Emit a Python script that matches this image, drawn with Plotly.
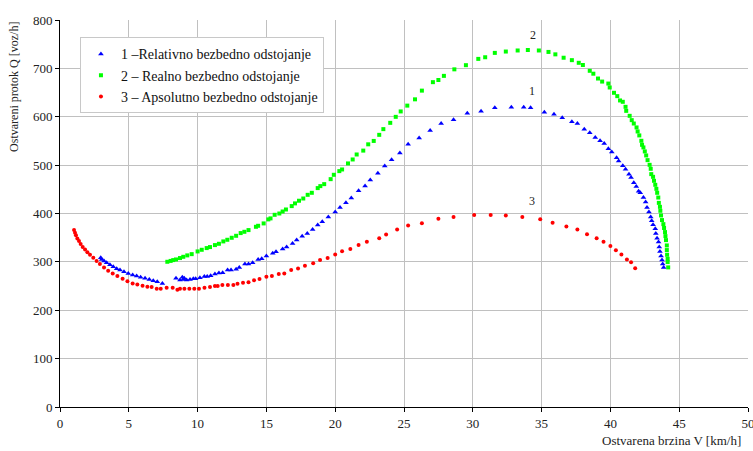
import plotly.graph_objects as go

# Series 1 – Relativno bezbedno odstojanje (blue triangles)
v1 = [2.96, 3.03, 3.2, 3.39, 3.63, 3.87, 4.12, 4.36, 4.65, 4.96,
      5.28, 5.57, 5.86, 6.18, 6.49, 6.78, 7.07, 7.44,
      8.43, 8.72, 8.89, 8.96, 9.03, 9.2, 9.45, 9.69, 9.86, 10.17,
      10.49, 10.7, 10.95, 11.26, 11.55, 11.82, 12.18, 12.43, 12.8, 13.03,
      13.44, 13.7, 14.0, 14.4, 14.66, 15.0, 15.46, 15.7, 16.18, 16.47,
      16.9, 17.2, 17.6, 17.97, 18.36, 18.73, 19.06, 19.5, 20.0, 20.35,
      20.78, 21.17, 21.7, 22.17, 22.55, 23.1, 23.6, 24.1, 24.7, 25.3,
      26.1, 26.9, 27.7, 28.6, 29.6, 30.6, 31.6, 32.8, 33.7, 34.2,
      35.2, 35.9, 36.5, 37.2, 37.6, 38.1, 38.5, 38.9, 39.25, 39.55,
      39.85, 40.1, 40.45, 40.6, 40.9, 41.1, 41.35, 41.5, 41.7, 41.88,
      42.05, 42.17, 42.4, 42.56, 42.66, 42.8, 42.93, 43.0, 43.1, 43.26,
      43.3, 43.39, 43.5, 43.55, 43.6, 43.68, 43.75, 43.8, 43.87]
q1 = [308.5, 305, 301.6, 298, 294, 290, 285.8, 283, 279.5, 276,
      272.7, 270.7, 268, 266, 263.8, 261, 259, 255.5,
      266, 262.4, 268, 263.8, 266, 262.4, 263.8, 265, 265, 267,
      270, 270, 271.3, 274.8, 276.9, 277.5, 283, 283, 285, 288.6,
      295.5, 295.5, 298, 305, 306.4, 312, 317.6, 321, 326.4, 331,
      338, 345, 353, 358.7, 367, 376, 383, 393, 403, 412.6,
      422, 431.8, 447, 456.6, 469, 483, 498, 511, 525, 543,
      556, 571.5, 586, 593.6, 607.4, 611.6, 618.4, 619.8, 619.8, 618.4,
      609.5, 605.4, 597.7, 589.5, 586, 574.4, 566.7, 557, 550.5, 544.5,
      533.7, 526.9, 515, 508.5, 498.6, 491.5, 481, 474.6, 463.4, 456,
      446, 442.8, 433, 423.6, 412.6, 403, 393, 385, 376.7, 368.4,
      358.9, 349, 341, 331, 321.7, 312, 303.7, 295.5, 288.6]

# Series 2 – Realno bezbedno odstojanje (green squares)
v2 = [7.8, 8.04, 8.23, 8.43, 8.72, 8.96, 9.25, 9.57, 10.0, 10.3,
      10.66, 10.9, 11.26, 11.55, 11.87, 12.16, 12.48, 12.8, 13.13, 13.4,
      13.7, 14.24, 14.4, 14.8, 15.14, 15.3, 15.6, 15.94, 16.18, 16.42,
      16.84, 17.08, 17.37, 17.68, 18.0, 18.3, 18.73, 18.92, 19.2, 19.67,
      19.9, 20.3, 20.5, 20.93, 21.27, 21.56, 22.04, 22.4, 22.8, 23.2,
      23.5, 24.0, 24.4, 24.76, 25.24, 25.8, 26.3, 27.1, 27.5, 27.9,
      28.66, 29.5, 30.4, 30.9, 31.6, 32.4, 33.26, 34.0, 34.8, 35.5,
      36.0, 36.6, 37.2, 37.7, 38.0, 38.5, 38.76, 39.1, 39.4, 39.85,
      39.95, 40.26, 40.5, 40.7, 40.9, 41.1, 41.15, 41.4, 41.55, 41.7,
      41.9, 41.98, 42.1, 42.25, 42.3, 42.4, 42.5, 42.6, 42.7, 42.85,
      42.93, 42.97, 43.1, 43.17, 43.26, 43.34, 43.4, 43.48, 43.52, 43.6,
      43.63, 43.68, 43.75, 43.85, 43.9, 43.97, 44.0, 44.04, 44.1, 44.1,
      44.12, 44.16, 44.16, 44.2]
q2 = [300.2, 302, 303.7, 305, 307.9, 310.5, 313.4, 316, 321.6, 325,
      328.5, 330.6, 334.7, 337.4, 342.3, 345.7, 349.8, 353.9, 359.5, 362.2,
      365.7, 372.5, 374.6, 379.5, 387.8, 389.9, 397.3, 400, 404.1, 408.3,
      415.3, 420.9, 426.4, 431, 438.6, 442.8, 452.5, 456.6, 460.7, 471,
      480, 487.6, 491, 503.5, 511.7, 522, 530, 543, 550, 562.6,
      574.4, 587.4, 599.8, 611, 623, 636, 654, 671.5, 676, 684.5,
      698, 706.6, 719.6, 723, 732, 734.8, 737, 738, 737, 734,
      729, 722, 717, 711.5, 707, 695, 689, 679, 672.7, 668.6,
      660.5, 649.5, 642.6, 633.7, 630.9, 620.5, 612.2, 601.9, 593, 586,
      577.9, 569.6, 561.4, 550.3, 542, 536.6, 528.3, 520, 510.3, 500.6,
      492.4, 481.4, 475.8, 467.6, 459.3, 451, 442.8, 433, 422, 413.8,
      405.6, 396, 386.4, 378, 370, 361.6, 353.3, 345, 334, 324.4,
      314.7, 306.4, 299.6, 288.6]

# Series 3 – Apsolutno bezbedno odstojanje (red circles)
v3 = [1.02, 1.09, 1.16, 1.26, 1.38, 1.5, 1.65, 1.82, 1.99, 2.18,
      2.42, 2.66, 2.9, 3.2, 3.5, 3.83, 4.17, 4.55, 4.9, 5.28,
      5.62, 6.0, 6.35, 6.66, 7.03, 7.32, 7.75, 8.19, 8.53, 8.72,
      9.04, 9.4, 9.76, 10.1, 10.5, 10.9, 11.26, 11.46, 11.8, 12.2,
      12.6, 12.9, 13.3, 13.7, 14.1, 14.5, 15.0, 15.4, 15.9, 16.3,
      16.8, 17.3, 17.8, 18.4, 18.9, 19.45, 20.0, 20.5, 21.1, 21.7,
      22.3, 23.2, 23.7, 24.5, 25.3, 26.3, 27.5, 28.6, 30.1, 31.3,
      32.4, 33.6, 34.9, 35.8, 36.8, 37.6, 38.3, 39.0, 39.5, 40.0,
      40.4, 40.8, 41.2, 41.5, 41.8]
q3 = [365.7, 360, 355, 348.5, 343, 336.8, 331, 325.8, 320, 314.7,
      308.5, 302, 295.5, 288.6, 281.7, 276, 270.7, 265, 260, 255.5,
      253.4, 250.6, 248.6, 248, 244.6, 244.6, 246.6, 246.6, 242.4, 244.6,
      244.6, 244.6, 244.6, 244.6, 246.6, 248, 250, 250, 252, 252,
      252, 254.8, 257, 258, 262, 264.5, 269, 271, 275, 276,
      283, 286.5, 292, 297, 303.7, 308, 315, 322, 326.4, 334.7,
      341.6, 349, 356.8, 367, 375, 380, 389, 392.6, 397, 397,
      396, 392.6, 388, 381, 373, 367, 357, 349, 341.6, 333,
      324, 315, 305, 299, 287]

names = ["1 \u2013Relativno bezbedno odstojanje",
         "2 \u2013 Realno bezbedno odstojanje",
         "3 \u2013 Apsolutno bezbedno odstojanje"]
curve_labels = ["1", "2", "3"]
label_x = [34.3, 34.4, 34.3]
label_y = [653, 770, 425]

x_ticks = [0, 5, 10, 15, 20, 25, 30, 35, 40, 45, 50]
y_ticks = [0, 100, 200, 300, 400, 500, 600, 700, 800]

FONT = "Liberation Serif"

fig = go.Figure()
fig.add_trace(go.Scatter(x=v1, y=q1, mode="markers", name=names[0],
                         marker=dict(symbol="triangle-up", size=5, color="#0000FF")))
fig.add_trace(go.Scatter(x=v2, y=q2, mode="markers", name=names[1],
                         marker=dict(symbol="square", size=4, color="#00FF00")))
fig.add_trace(go.Scatter(x=v3, y=q3, mode="markers", name=names[2],
                         marker=dict(symbol="circle", size=4, color="#FF0000")))

for t, xx, yy in zip(curve_labels, label_x, label_y):
    fig.add_annotation(x=xx, y=yy, text=t, showarrow=False,
                       font=dict(family=FONT, size=12, color="#222"))

fig.add_annotation(xref="paper", yref="paper", x=0.993, y=-0.063, xanchor="right", yanchor="top",
                   text="Ostvarena brzina V [km/h]", showarrow=False,
                   font=dict(family=FONT, size=13, color="#222"))
fig.add_annotation(xref="paper", yref="paper", x=-0.067, y=1.0, xanchor="center", yanchor="top",
                   text="Ostvareni protok Q [voz/h]", textangle=-90, showarrow=False,
                   font=dict(family=FONT, size=12, color="#222"))

fig.update_layout(
    width=753, height=451,
    margin=dict(l=60, r=5, t=20, b=44),
    paper_bgcolor="white", plot_bgcolor="white",
    font=dict(family=FONT, size=12, color="#222"),
    showlegend=True,
    legend=dict(x=0.029, y=0.955, xanchor="left", yanchor="top",
                bgcolor="white", bordercolor="#c8c8c8", borderwidth=1,
                font=dict(family=FONT, size=14, color="#111"),
                itemsizing="trace", tracegroupgap=0, itemwidth=30),
)
fig.update_xaxes(range=[0, 50], tickvals=x_ticks, showgrid=True, gridcolor="#c0c0c0", gridwidth=1,
                 showline=True, linecolor="black", linewidth=1, ticks="outside", ticklen=4,
                 tickcolor="black", zeroline=False, tickfont=dict(family=FONT, size=13),
                 ticklabeloverflow="allow", automargin=False)
fig.update_yaxes(range=[0, 800], tickvals=y_ticks, showgrid=True, gridcolor="#c0c0c0", gridwidth=1,
                 showline=True, linecolor="black", linewidth=1, ticks="outside", ticklen=4,
                 tickcolor="black", zeroline=False, tickfont=dict(family=FONT, size=13),
                 automargin=False)

fig.write_html("out.html", config={"displayModeBar": False},
               post_script="document.body.style.margin='0';document.body.style.overflow='hidden';")
